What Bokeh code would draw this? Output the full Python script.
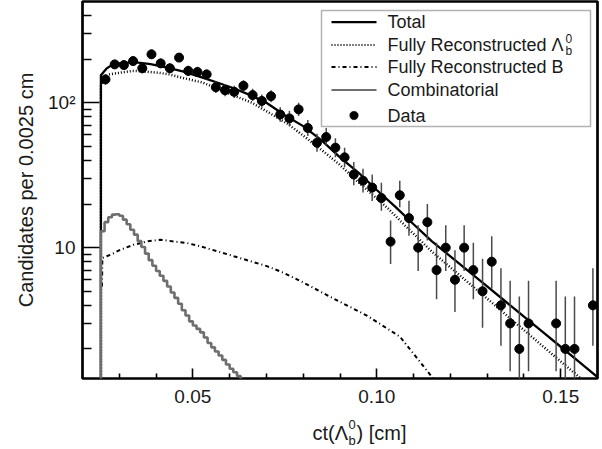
import numpy as np
from bokeh.plotting import figure
from bokeh.models import (Range1d, FixedTicker, PrintfTickFormatter, Label,
                          BoxAnnotation, Arrow, PolyAnnotation)
from bokeh.embed import file_html
from bokeh.resources import INLINE

# ---------------- data ----------------
data_ct = [0.02625, 0.02875, 0.03125, 0.03375, 0.03625, 0.03875, 0.04125, 0.04375,
           0.04625, 0.04875, 0.05125, 0.05375, 0.05625, 0.05875, 0.06125, 0.06375,
           0.06625, 0.06875, 0.07125, 0.07375, 0.07625, 0.07875, 0.08125, 0.08375,
           0.08625, 0.08875, 0.09125, 0.09375, 0.09625, 0.09875, 0.10125, 0.10375,
           0.10625, 0.10875, 0.11125, 0.11375, 0.11625, 0.11875, 0.12125, 0.12375,
           0.12625, 0.12875, 0.13125, 0.13375, 0.13625, 0.13875, 0.14125, 0.14875,
           0.15125, 0.15375, 0.15875]
data_n = [145, 184, 182, 194, 173, 216, 187, 173, 205, 166, 163, 157, 128, 122, 119, 131,
          113, 103, 111, 83, 78, 90, 67, 53, 58, 49, 42, 32, 29, 26, 22, 11,
          23, 16, 10, 15, 7, 10, 6, 10, 7, 5, 8, 4, 3, 2, 3, 3,
          2, 2, 4]
data_lo = [133, 171, 169, 180, 160, 202, 174, 160, 191, 153, 151, 145, 117, 111, 108, 120,
           103, 93, 101, 74, 69, 81, 59, 46, 51, 42, 36, 27, 24, 21, 18, 7.7,
           19, 12.1, 6.9, 11.2, 4.4, 6.9, 3.6, 6.9, 4.4, 2.8, 5.2, 2.1, 1.4, 0.7, 1.4, 1.4,
           0.7, 0.7, 2.1]
data_hi = [158, 198, 196, 209, 187, 232, 202, 187, 220, 180, 177, 170, 140, 134, 131, 143,
           125, 114, 122, 93, 88, 100, 76, 61, 67, 57, 49, 39, 35, 32, 28, 15.4,
           29, 21.1, 14.3, 20.0, 10.8, 14.3, 9.6, 14.3, 10.8, 8.4, 12.0, 7.2, 5.9, 4.6, 5.9, 5.9,
           4.6, 4.6, 7.2]

total_ct = [0.025, 0.025, 0.0265, 0.028, 0.030, 0.034, 0.0385, 0.043, 0.0475, 0.052,
            0.0566, 0.0611, 0.0656, 0.070, 0.075, 0.080, 0.085, 0.090, 0.095, 0.100,
            0.105, 0.110, 0.115, 0.120, 0.125, 0.130, 0.135, 0.140, 0.145, 0.150,
            0.155, 0.160]
total_val = [1.0, 155, 172, 182, 187, 191, 185, 175, 164, 151,
             138, 126, 113, 100, 82, 69, 55, 42, 33, 25,
             19.2, 14.5, 11.05, 8.71, 6.86, 5.40, 4.25, 3.34, 2.63, 2.07,
             1.63, 1.28]

lamb_ct = [0.025, 0.025, 0.026, 0.0272, 0.030, 0.0336, 0.0372, 0.0408, 0.0435, 0.048,
           0.0526, 0.0571, 0.0616, 0.0661, 0.0715, 0.076, 0.0805, 0.0851, 0.0896, 0.0942,
           0.0986, 0.1031, 0.1077, 0.115, 0.120, 0.125, 0.130, 0.135, 0.140, 0.145,
           0.150, 0.155, 0.160]
lamb_val = [1.0, 130, 148, 157, 161, 166, 164, 161, 157, 147,
            138, 124, 111, 100, 83, 71, 58, 47, 38, 29.5,
            23.5, 18.6, 14.2, 9.38, 7.31, 5.70, 4.45, 3.46, 2.70, 2.10,
            1.64, 1.28, 1.0]

bmes_ct = [0.0253, 0.0254, 0.0276, 0.0303, 0.0339, 0.0376, 0.0412, 0.0448, 0.0484, 0.0520,
           0.0566, 0.0611, 0.0656, 0.0701, 0.0746, 0.0792, 0.0882, 0.0973, 0.1063, 0.1149,
           0.118]
bmes_val = [5.4, 8.5, 8.93, 9.67, 10.47, 11.04, 11.35, 11.04, 10.76, 10.22,
            9.45, 8.73, 8.07, 7.46, 6.72, 5.89, 4.46, 3.40, 2.43, 1.29,
            1.0]

comb_ct = [0.025, 0.025, 0.026, 0.027, 0.028, 0.029, 0.030, 0.031, 0.032, 0.033, 0.034,
           0.035, 0.036, 0.037, 0.038, 0.039, 0.040, 0.041, 0.042, 0.043, 0.044,
           0.045, 0.046, 0.047, 0.048, 0.049, 0.050, 0.051, 0.052, 0.053, 0.054,
           0.055, 0.056, 0.057, 0.058, 0.059, 0.060, 0.061, 0.062, 0.063, 0.064, 0.065]
comb_val = [1.0, 13.0, 15.0, 16.2, 16.9, 17.0, 16.6, 15.6, 14.5, 13.3, 12.3,
            11.1, 10.1, 9.1, 8.2, 7.5, 6.9, 6.4, 5.9, 5.4, 4.9,
            4.5, 4.1, 3.7, 3.4, 3.1, 2.9, 2.75, 2.6, 2.4, 2.2,
            2.05, 1.92, 1.80, 1.68, 1.56, 1.46, 1.38, 1.30, 1.22, 1.15, 1.1]

x_major = [0.05, 0.10, 0.15]
x_minor = [0.03, 0.04, 0.06, 0.07, 0.08, 0.09, 0.11, 0.12, 0.13, 0.14]
y_major = [10, 100]
y_minor = [2, 3, 4, 5, 6, 7, 8, 9, 20, 30, 40, 50, 60, 70, 80, 90, 200, 300, 400]

legend_labels = ["Total", "Fully Reconstructed \u039b", "Fully Reconstructed B",
                 "Combinatorial", "Data"]

# ---------------- main figure ----------------
FONT = "Liberation Sans"
INK = "#1a1a1a"
W, H = 602, 449
H1 = 412
FL, FR, FT, FB = 82, 597, 1, 378

p = figure(width=W, height=H1, x_range=Range1d(0.02, 0.16), y_range=Range1d(1.25, 500),
           y_axis_type="log", output_backend="svg", toolbar_location=None, title=None,
           min_border_left=FL, min_border_right=W - FR, min_border_top=FT,
           min_border_bottom=H1 - FB)
p.styles = {"position": "absolute", "top": "0px", "left": "0px"}
p.background_fill_color = "white"
p.border_fill_color = "white"
p.outline_line_color = "black"
p.outline_line_width = 2.7
p.grid.visible = False

xa = p.xaxis[0]
xa.ticker = FixedTicker(ticks=x_major, minor_ticks=x_minor)
xa.formatter = PrintfTickFormatter(format="%.2f")
ya = p.yaxis[0]
ya.ticker = FixedTicker(ticks=y_major, minor_ticks=y_minor)
ya.major_label_overrides = {10: "10", 100: "10\u00b2"}

for ax in (xa, ya):
    ax.axis_line_color = None
    ax.major_tick_out = 0
    ax.minor_tick_out = 0
    ax.major_tick_line_color = "black"
    ax.minor_tick_line_color = "black"
    ax.major_tick_line_width = 1.6
    ax.minor_tick_line_width = 1.6
    ax.major_label_text_font = FONT
    ax.major_label_text_font_size = "19px"
    ax.major_label_text_color = INK
xa.major_tick_in = 10
xa.minor_tick_in = 5
xa.major_label_standoff = 11
ya.major_tick_in = 17
ya.minor_tick_in = 9
ya.major_label_standoff = 7
ya.axis_label = "Candidates per 0.0025 cm"
ya.axis_label_text_font = FONT
ya.axis_label_text_font_size = "20px"
ya.axis_label_text_font_style = "normal"
ya.axis_label_text_color = INK
ya.axis_label_standoff = 8

# ---------------- curves ----------------
p.line(total_ct, total_val, line_color="black", line_width=2.3)
p.line(lamb_ct, lamb_val, line_color="black", line_width=2.5, line_dash="1 2")
p.line(bmes_ct, bmes_val, line_color="black", line_width=2.0, line_dash="4 3 1 3")
p.step(comb_ct, comb_val, mode="after", line_color="#6e6e6e", line_width=2.6)

# ---------------- data ----------------
p.segment(x0=data_ct, y0=data_lo, x1=data_ct, y1=data_hi, line_color="#4a4a4a",
          line_width=1.5)
p.scatter(data_ct, data_n, marker="circle", size=9, fill_color="black", line_color="black")


# ---------------- annotations (screen units relative to the frame) ----------------
def sx(px):
    return px - FL


def sy(py):
    return FB - py


def add_text(fig, txt, x, y, size, baseline="middle"):
    fig.add_layout(Label(x=x, y=y, x_units="screen", y_units="screen", text=txt,
                         text_font=FONT, text_font_size=size, text_color=INK,
                         text_align="left", text_baseline=baseline))


# legend box
p.add_layout(BoxAnnotation(left=sx(321), right=sx(590), top=sy(10), bottom=sy(126),
                           left_units="screen", right_units="screen", top_units="screen",
                           bottom_units="screen", fill_color="white", fill_alpha=1.0,
                           line_color="black", line_width=1.5, level="annotation"))

rows = [21.7, 44.5, 66.5, 89.5, 115]
samples = [("black", 2.3, "solid"), ("black", 2.0, "1 2"), ("black", 1.8, "4 3 1 3"),
           ("#6e6e6e", 1.8, "solid")]
for (col, lw, dash), ry in zip(samples, rows[:4]):
    p.add_layout(Arrow(x_start=sx(331), y_start=sy(ry), x_end=sx(376), y_end=sy(ry),
                       start_units="screen", end_units="screen", start=None, end=None,
                       line_color=col, line_width=lw, line_dash=dash))
ang = np.linspace(0, 2 * np.pi, 24, endpoint=False)
p.add_layout(PolyAnnotation(xs=list(sx(353.5) + 4.3 * np.cos(ang)),
                            ys=list(sy(rows[4]) + 4.3 * np.sin(ang)),
                            xs_units="screen", ys_units="screen", fill_color="black",
                            fill_alpha=1.0, line_color="black"))

for lab, ry in zip(legend_labels, rows):
    add_text(p, lab, sx(387), sy(ry), "18px")
add_text(p, "0", sx(565), sy(rows[1] - 7), "12px")
add_text(p, "b", sx(565), sy(rows[1] + 6), "12px")

# ---------------- transparent overlay for the x title: ct(Λ_b^0) [cm] ----------------
p2 = figure(width=W, height=H, x_range=Range1d(0, 1), y_range=Range1d(0, 1),
            output_backend="svg", toolbar_location=None, title=None,
            x_axis_location=None, y_axis_location=None,
            min_border_left=0, min_border_right=0, min_border_top=0, min_border_bottom=0)
p2.styles = {"position": "absolute", "top": "0px", "left": "0px"}
p2.outline_line_color = None
p2.grid.visible = False
p2.background_fill_color = None
p2.border_fill_color = None


def ty(py):
    return H - py


add_text(p2, "ct(\u039b", 312, ty(432), "20px")
add_text(p2, "0", 348, ty(424), "13px")
add_text(p2, "b", 348, ty(440), "13px")
add_text(p2, ") [cm]", 356, ty(432), "20px")

open("out.html", "w").write(file_html([p, p2], INLINE))
